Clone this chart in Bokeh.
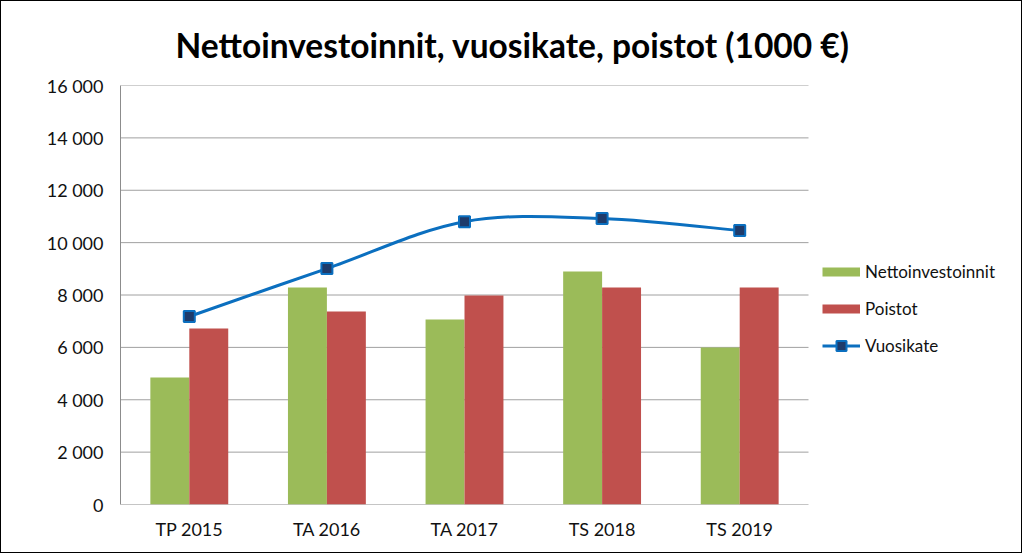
import numpy as np
from bokeh.plotting import figure
from bokeh.models import Range1d, FixedTicker, Legend, LegendItem, Title
from bokeh.embed import file_html
from bokeh.resources import INLINE

title_text = "Nettoinvestoinnit, vuosikate, poistot (1000 €)"
categories = ["TP 2015", "TA 2016", "TA 2017", "TS 2018", "TS 2019"]
nettoinvestoinnit = [4850, 8290, 7060, 8900, 6000]
poistot = [6720, 7370, 7980, 8290, 8290]
vuosikate = [7180, 9010, 10800, 10920, 10460]
y_ticks = [0, 2000, 4000, 6000, 8000, 10000, 12000, 14000, 16000]
y_tick_labels = ["0", "2 000", "4 000", "6 000", "8 000", "10 000", "12 000", "14 000", "16 000"]

FONT = "Lato"
GREEN = "#9BBB59"
RED = "#C0504D"
BLUE = "#0B6FBF"
GRID = "#A0A0A0"

n = len(categories)
xs = np.arange(n, dtype=float)
bw = 0.283
legend_room = 1.5625  # extra x room on the right of the plot area for the legend

p = figure(width=1022, height=553, output_backend="svg", toolbar_location=None,
           x_range=Range1d(-0.5, n - 0.5 + legend_room), y_range=Range1d(0, 16000),
           min_border_left=119, min_border_right=0, min_border_top=84, min_border_bottom=50)
p.styles = {"border": "1px solid black"}
p.outline_line_color = None
p.background_fill_color = "white"
p.border_fill_color = "white"

# gridlines and bottom axis line, limited to the plotting region
p.segment(x0=-0.5, x1=n - 0.5, y0=y_ticks[1:], y1=y_ticks[1:], line_color=GRID, line_width=1)
p.segment(x0=-0.5, x1=n - 0.5, y0=0, y1=0, line_color="#8C8C8C", line_width=1)

gbar = p.vbar(x=xs - bw / 2, top=nettoinvestoinnit, width=bw, fill_color=GREEN, line_color=None)
rbar = p.vbar(x=xs + bw / 2, top=poistot, width=bw, fill_color=RED, line_color=None)

# smoothed line (Catmull-Rom style Bezier, as in the original chart's smoothing)
pts = np.column_stack([xs, np.array(vuosikate, dtype=float)])
ext = np.vstack([pts[0], pts, pts[-1]])
x0, y0, x1, y1, cx0, cy0, cx1, cy1 = ([] for _ in range(8))
for i in range(n - 1):
    p0, p1, p2, p3 = ext[i], ext[i + 1], ext[i + 2], ext[i + 3]
    c0 = p1 + (p2 - p0) / 6.0
    c1 = p2 - (p3 - p1) / 6.0
    x0.append(p1[0]); y0.append(p1[1]); x1.append(p2[0]); y1.append(p2[1])
    cx0.append(c0[0]); cy0.append(c0[1]); cx1.append(c1[0]); cy1.append(c1[1])
curve = p.bezier(x0=x0, y0=y0, x1=x1, y1=y1, cx0=cx0, cy0=cy0, cx1=cx1, cy1=cy1,
                 line_color=BLUE, line_width=3)
marks = p.scatter(x=xs, y=vuosikate, marker="square", size=11, fill_color="#1F3B6A",
                  line_color=BLUE, line_width=2)

# legend swatches (no visible data)
nan2 = [float("nan"), float("nan")]
g_sw = p.line(x=nan2, y=nan2, line_color=GREEN, line_width=9)
r_sw = p.line(x=nan2, y=nan2, line_color=RED, line_width=9)
b_sw = p.line(x=nan2, y=nan2, line_color=BLUE, line_width=3)

# axes
p.xaxis.ticker = FixedTicker(ticks=list(xs))
p.xaxis.major_label_overrides = {i: c for i, c in enumerate(categories)}
p.yaxis.ticker = FixedTicker(ticks=y_ticks)
p.yaxis.major_label_overrides = {t: l for t, l in zip(y_ticks, y_tick_labels)}
for ax in (p.xaxis[0], p.yaxis[0]):
    ax.axis_line_color = "#8C8C8C"
    ax.axis_line_width = 1
    ax.major_tick_line_color = None
    ax.minor_tick_line_color = None
    ax.major_tick_out = 0
    ax.major_tick_in = 0
    ax.major_label_text_font = FONT
    ax.major_label_text_font_size = "18px"
    ax.major_label_text_color = "#111111"
p.xaxis.axis_line_color = None
p.xaxis.major_label_standoff = 13
p.yaxis.major_label_standoff = 17
p.xgrid.grid_line_color = None
p.ygrid.grid_line_color = None

legend = Legend(items=[
    LegendItem(label="Nettoinvestoinnit", renderers=[g_sw]),
    LegendItem(label="Poistot", renderers=[rbar if False else r_sw]),
    LegendItem(label="Vuosikate", renderers=[b_sw, marks]),
], location=(702, 146))
legend.border_line_color = None
legend.background_fill_alpha = 0
legend.padding = 5
legend.margin = 0
legend.glyph_width = 38
legend.glyph_height = 25
legend.label_height = 20
legend.spacing = 12
legend.label_standoff = 5
legend.label_text_font = FONT
legend.label_text_font_size = "17px"
legend.label_text_color = "#111111"
p.add_layout(legend)

p.title = Title(text=title_text, align="left", offset=55, standoff=42,
                text_font=FONT, text_font_size="33.5px", text_font_style="bold",
                text_color="black")

open("out.html", "w").write(file_html(p, INLINE))
